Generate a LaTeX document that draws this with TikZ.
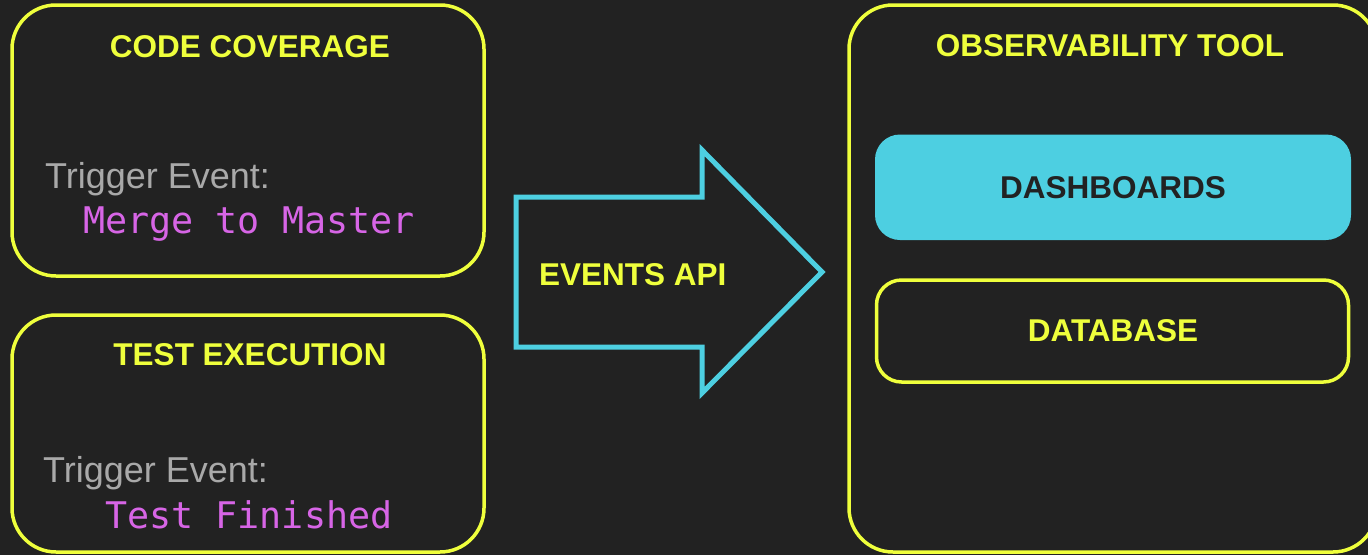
\documentclass[tikz,border=0pt]{standalone}
\usepackage{fontspec}
\setmainfont{Liberation Sans}
\setmonofont{DejaVu Sans Mono}
\definecolor{bg}{HTML}{222222}
\definecolor{lemon}{HTML}{EFFF3C}
\definecolor{aqua}{HTML}{4DCFE1}
\definecolor{orchid}{HTML}{D765E6}
\definecolor{ash}{HTML}{A9A9A9}
\begin{document}
\begin{tikzpicture}[x=1pt,y=-1pt,
  panel/.style={draw=lemon, line width=3.5pt, rounded corners=44pt, inner sep=0pt, outer sep=0pt},
  slot/.style={rounded corners=25pt, inner sep=0pt, outer sep=0pt},
  heading/.style={text=lemon, font=\fontsize{31.5}{36}\selectfont\bfseries, anchor=base, inner sep=0pt},
  lbl/.style={text=ash, font=\fontsize{36}{40}\selectfont, anchor=base west, inner sep=0pt},
  evt/.style={text=orchid, font=\fontsize{36.7}{40}\selectfont\ttfamily, anchor=base west, inner sep=0pt}]
\useasboundingbox (0,0) rectangle (1368,555);
\fill[bg] (0,0) rectangle (1368,555);

% source panels
\node[panel, minimum width=472pt, minimum height=271pt] (cov) at (248,140.5) {};
\node[heading] (covt) at (250,57) {CODE COVERAGE};
\node[lbl] (covl) at (45,188) {Trigger Event:};
\node[evt] (cove) at (83,233) {Merge to Master};

\node[panel, minimum width=472pt, minimum height=237pt] (exe) at (248,433.5) {};
\node[heading] (exet) at (250,365) {TEST EXECUTION};
\node[lbl] (exel) at (43,482) {Trigger Event:};
\node[evt] (exee) at (105,528) {Test Finished};

% events API arrow
\draw[aqua, line width=5pt, line join=miter]
  (516,197) -- (702,197) -- (702,150) -- (822,272) -- (702,393) -- (702,347) -- (516,347) -- cycle;
\node[heading, anchor=base west] (api) at (539,285) {EVENTS API};

% observability tool
\node[panel, minimum width=528pt, minimum height=547pt] (obs) at (1113,278.5) {};
\node[heading] (obst) at (1110,56) {OBSERVABILITY TOOL};
\node[slot, fill=aqua, minimum width=476pt, minimum height=105.5pt] (dash) at (1113,187.25) {};
\node[heading, text=bg] (dasht) at (1113,198) {DASHBOARDS};
\node[slot, draw=lemon, line width=3.5pt, minimum width=472pt, minimum height=102pt] (db) at (1112.5,331) {};
\node[heading] (dbt) at (1113,341.5) {DATABASE};
\end{tikzpicture}
\end{document}
